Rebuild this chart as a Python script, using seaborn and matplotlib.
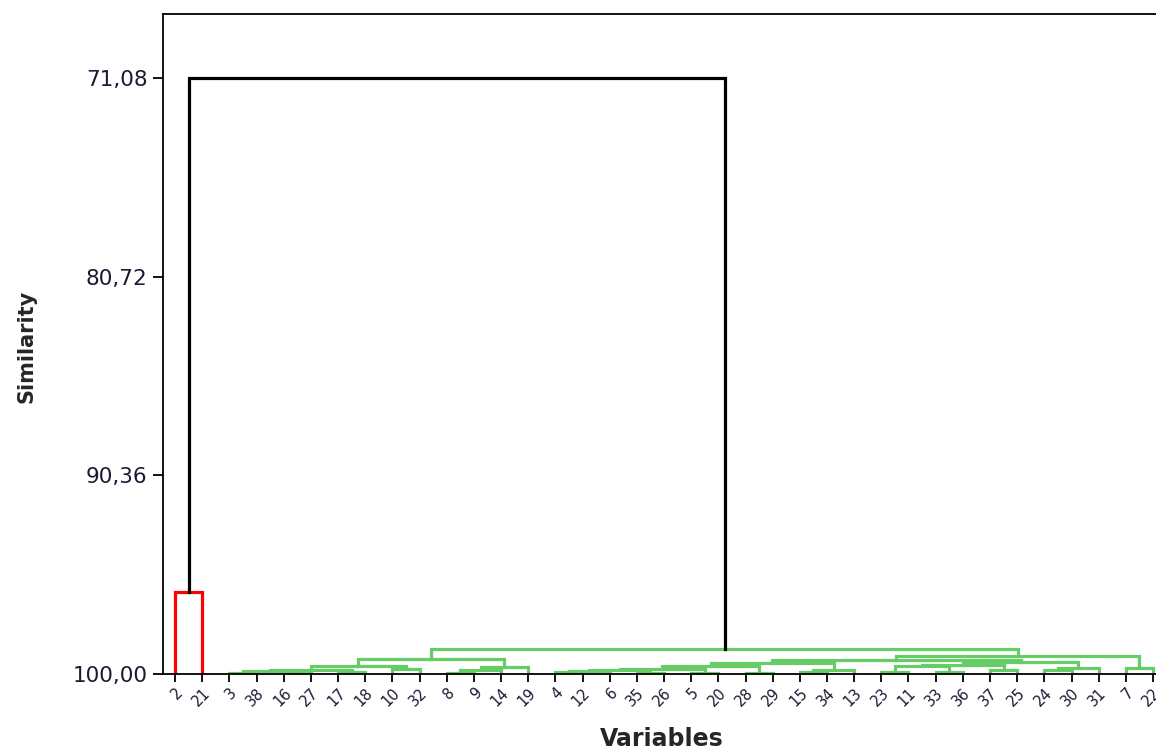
import numpy as np
import pandas as pd
import matplotlib
matplotlib.use("Agg")
import matplotlib.pyplot as plt
import seaborn as sns

# ---------------- data ----------------
leaves = ["2", "21", "3", "38", "16", "27", "17", "18", "10", "32", "8", "9", "14", "19",
          "4", "12", "6", "35", "26", "5", "20", "28", "29", "15", "34", "13", "23", "11",
          "33", "36", "37", "25", "24", "30", "31", "7", "22"]

# linkage (scipy convention: leaves 0..n-1, merge k creates node n+k)
merge_left = [0, 2, 4, 38, 6, 40, 8, 42, 10, 45, 46, 44,
              14, 49, 17, 50, 19, 52, 21, 54, 23, 57, 56,
              26, 28, 60, 30, 32, 64, 62, 66, 59, 35, 68, 48, 37]
merge_right = [1, 3, 5, 39, 7, 41, 9, 43, 11, 12, 13, 47,
               15, 16, 18, 51, 20, 53, 22, 55, 24, 25, 58,
               27, 29, 61, 31, 33, 34, 63, 65, 67, 36, 69, 70, 71]
merge_similarity = [96.02, 99.93, 99.97, 99.85, 99.90, 99.80, 99.78, 99.63, 99.97, 99.83, 99.66, 99.27,
                    99.90, 99.86, 99.95, 99.82, 99.97, 99.75, 99.97, 99.60, 99.90, 99.80, 99.45,
                    99.90, 99.88, 99.62, 99.82, 99.82, 99.72, 99.55, 99.40, 99.30, 99.71, 99.13, 98.79, 71.08]

y_ticks = [71.08, 80.72, 90.36, 100.00]
n_clusters = 2

# ---------------- build dendrogram segments ----------------
n = len(leaves)
pos = {i: float(i) for i in range(n)}
hts = {i: 100.0 for i in range(n)}
children = {}
for k, (l, r, h) in enumerate(zip(merge_left, merge_right, merge_similarity)):
    node = n + k
    children[node] = (l, r)
    pos[node] = (pos[l] + pos[r]) / 2
    hts[node] = h

# cluster assignment: top (n_clusters-1) merges are black
root = n + len(merge_left) - 1
cluster_of = {}
top_nodes = [root]
black = set()
while len(top_nodes) < n_clusters:
    node = min((t for t in top_nodes if t >= n), key=lambda t: hts[t])
    top_nodes.remove(node)
    black.add(node)
    top_nodes.extend(children[node])
top_nodes.sort(key=lambda t: pos[t])
cl_names = ["c1", "c2"]


def assign(node, name):
    cluster_of[node] = name
    if node in children:
        for c in children[node]:
            assign(c, name)


for t, name in zip(top_nodes, cl_names):
    assign(t, name)

rows = []
for k, (l, r, h) in enumerate(zip(merge_left, merge_right, merge_similarity)):
    node = n + k
    grp = "black" if node in black else cluster_of[node]
    for (x, y) in [(pos[l], hts[l]), (pos[l], h), (pos[r], h), (pos[r], hts[r])]:
        rows.append({"link": k, "x": x, "y": y, "group": grp})
df = pd.DataFrame(rows)

# ---------------- plot ----------------
sns.set_style("ticks")
plt.rcParams["font.family"] = ["DejaVu Sans"]

fig = plt.figure(figsize=(11.56, 7.54), dpi=100)
ax = fig.add_axes([163 / 1156, 80 / 754, (1163 - 163) / 1156, (674 - 14) / 754])

palette = {"black": "#000000", "c1": "#ff0000", "c2": "#66cc66"}
sns.lineplot(data=df, x="x", y="y", units="link", hue="group", palette=palette,
             estimator=None, sort=False, legend=False, linewidth=2.3, ax=ax)
for line in ax.lines:
    line.set_solid_capstyle("projecting")
    line.set_solid_joinstyle("miter")

step = (1153 - 175) / (n - 1)
ax.set_xlim(-(175 - 163) / step, (n - 1) + (1163 - 1153) / step)
ppu = (674 - 78) / (100 - 71.08)
ax.set_ylim(100, 71.08 - (78 - 14) / ppu)

ax.set_yticks(y_ticks)
ax.set_yticklabels([f"{v:.2f}".replace(".", ",") for v in y_ticks], fontsize=15.5, color="#1a1a33")
ax.set_xticks(range(n))
ax.set_xticklabels(leaves, rotation=45, ha="right", rotation_mode="anchor", fontsize=10.5, color="#1a1a33")

ax.tick_params(axis="y", direction="out", length=7, width=1.3, pad=4, color="black")
ax.tick_params(axis="x", direction="out", length=6, width=1.3, pad=2, color="black")
for s in ["left", "top", "bottom"]:
    ax.spines[s].set_color("black")
    ax.spines[s].set_linewidth(1.3)
ax.spines["right"].set_visible(False)

ax.set_ylabel("Similarity", fontsize=15, fontweight="bold")
ax.set_xlabel("Variables", fontsize=17, fontweight="bold")
ax.yaxis.set_label_coords((36 - 163) / 1000, (674 - 346) / 660)
ax.xaxis.set_label_coords((662 - 163) / 1000, (674 - 727) / 660)

fig.savefig("out.png", dpi=100)
